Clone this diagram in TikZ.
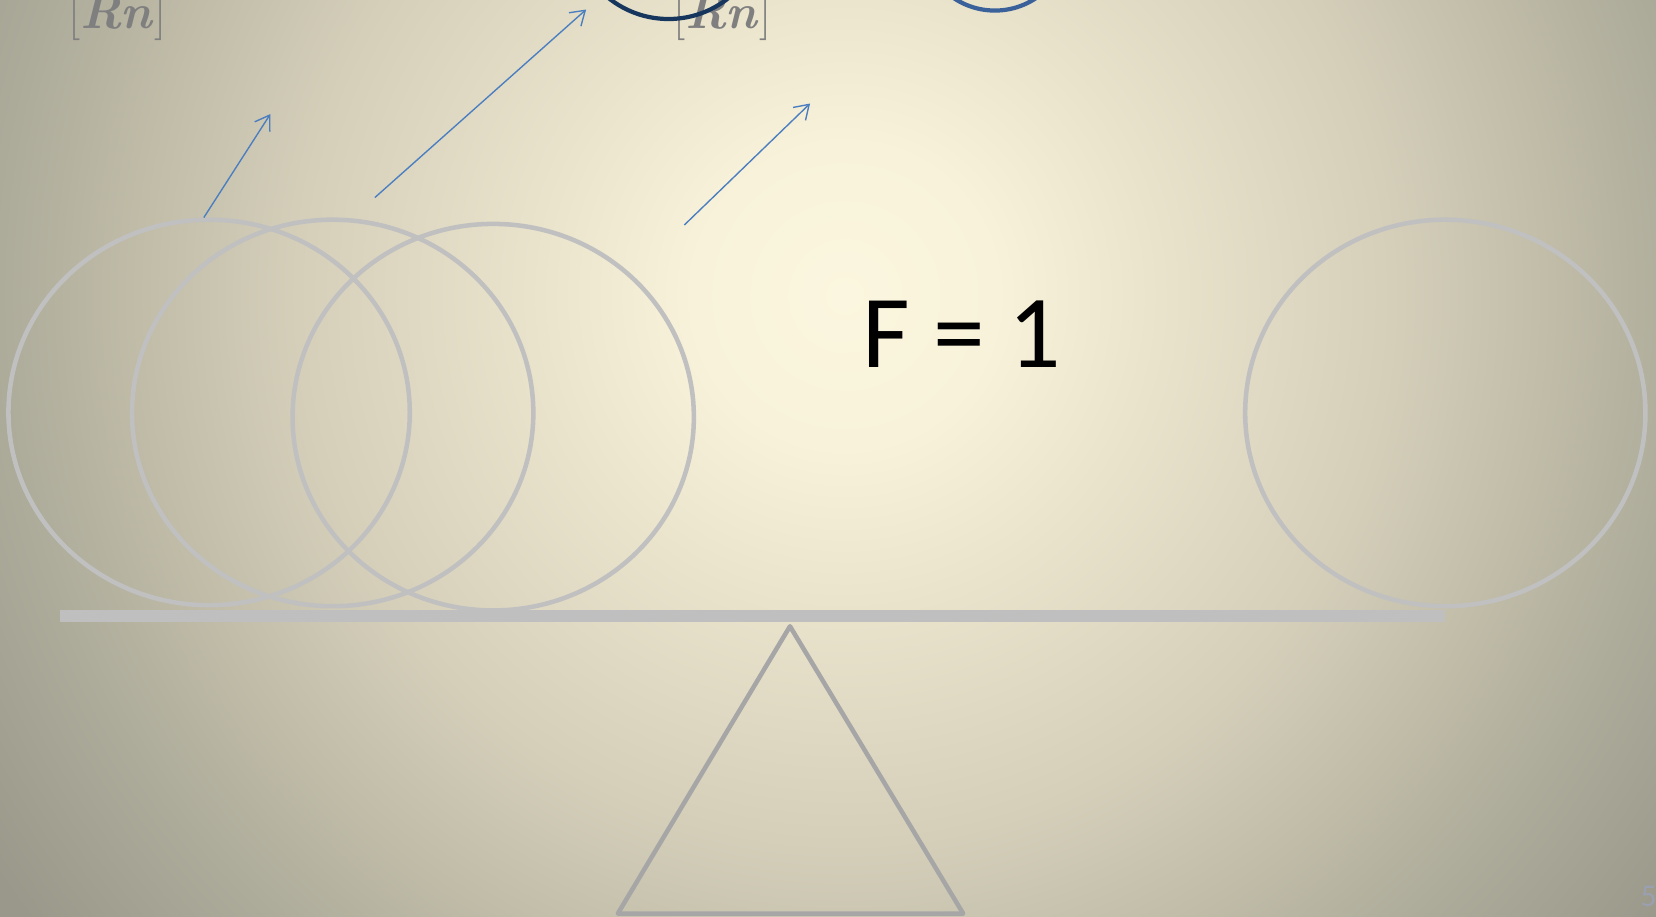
\documentclass[tikz,border=0pt]{standalone}
\usepackage{fontspec}
\newfontfamily\calibri{Carlito}
\usetikzlibrary{arrows.meta}
\usepackage{xcolor}

\definecolor{glowA}{HTML}{FBF6DF}
\definecolor{glowB}{HTML}{F8F2DA}
\definecolor{glowC}{HTML}{E9E3CC}
\definecolor{glowD}{HTML}{D5CFBA}
\definecolor{glowE}{HTML}{C0BCA8}
\definecolor{glowF}{HTML}{ADAB9A}
\definecolor{glowG}{HTML}{9A988A}
\definecolor{ringgray}{HTML}{C0C0C0}
\definecolor{beamgray}{HTML}{BFBFBF}
\definecolor{pivotgray}{HTML}{A6A6A6}
\definecolor{pushblue}{HTML}{4A7EC0}
\definecolor{taggray}{HTML}{7F7F7F}
\definecolor{navyarc}{HTML}{17365D}
\definecolor{steelarc}{HTML}{3A6199}
\definecolor{pagenum}{HTML}{9AA0B0}

\pgfdeclareradialshading{slideglow}{\pgfpoint{0bp}{0bp}}{color(0bp)=(glowA); color(4bp)=(glowB); color(8.3bp)=(glowC); color(14.4bp)=(glowD); color(18.6bp)=(glowE); color(22.2bp)=(glowF); color(27bp)=(glowG); color(50bp)=(glowG)}

\begin{document}
\begin{tikzpicture}[
  x=1pt, y=-1pt,
  ring/.style={draw=ringgray, line width=4.3pt},
  push/.style={draw=pushblue, line width=1.3pt, -{Straight Barb[length=13pt, width=17pt]}},
  tag/.style={text=taggray, font=\fontsize{46}{46}\selectfont, inner sep=0pt, anchor=base},
  topcap/.style={line width=4pt}
]
\useasboundingbox (0,0) rectangle (1568,868);
\begin{scope}
\clip (0,0) rectangle (1568,868);
% background
\shade[shading=slideglow] (-100,-620) rectangle (1700,1180);

% rolling rings
\draw[ring] (198,390.5) ellipse [x radius=190, y radius=182.5];
\draw[ring] (315,391) ellipse [x radius=190, y radius=183];
\draw[ring] (467,395) ellipse [x radius=190, y radius=183];
\draw[ring] (1368.5,391) ellipse [x radius=189.5, y radius=183];

% beam and pivot
\fill[beamgray] (57,578) rectangle (1368,589);
\draw[pivotgray, line width=4.3pt, line join=round]
  (748,593) -- (912,865) -- (585,865) -- cycle;

% labels cut by the top edge
\node[tag] (rnleft) at (111,27) {[\textbf{\textit{Rn}}]};
\node[tag] (rnmid) at (684,27) {[\textbf{\textit{Rn}}]};
\draw[navyarc, topcap] (633,-73) circle [radius=91];
\draw[steelarc, topcap] (942,-60) circle [radius=70];

% push arrows
\coordinate (pa1) at (193,206);
\coordinate (pb1) at (256,108);
\coordinate (pa2) at (355,187);
\coordinate (pb2) at (555,9);
\coordinate (pa3) at (648,213);
\coordinate (pb3) at (767,98);
\draw[push] (pa1) -- (pb1);
\draw[push] (pa2) -- (pb2);
\draw[push] (pa3) -- (pb3);

\node[inner sep=0pt, font=\calibri\fontsize{98}{98}\selectfont] (force) at (911,316) {F = 1};
\node[inner sep=0pt, text=pagenum, font=\calibri\fontsize{30}{30}\selectfont] (slide) at (1561,849) {5};
\end{scope}
\end{tikzpicture}
\end{document}
